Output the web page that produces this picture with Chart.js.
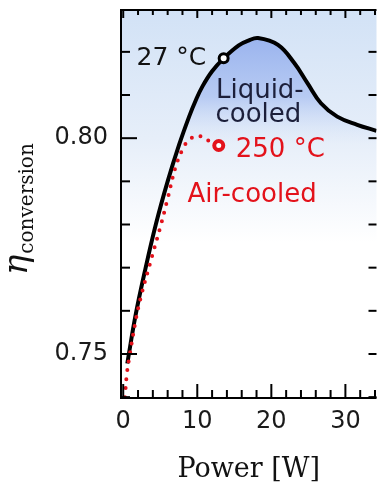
<!DOCTYPE html>
<html>
<head>
<meta charset="utf-8">
<script src="https://cdn.jsdelivr.net/npm/chart.js@4.4.1/dist/chart.umd.min.js"></script>
<style>
  html, body { margin: 0; padding: 0; overflow: hidden; background: #fff; }
  canvas { display: block; }
</style>
</head>
<body>
<canvas id="chart" width="385" height="486"></canvas>
<script>
// liquid-cooled curve (solid black)
const liquidPower = [0.55, 1.65, 2.9, 4.4, 6.0, 7.55, 8.9, 9.8, 10.7, 12.0, 13.56, 15.6, 16.9, 18.2, 20.9, 23.1, 24.9, 26.7, 28.9, 31.6, 34.2];
const liquidEff = [0.7478, 0.7588, 0.7690, 0.7800, 0.7900, 0.7985, 0.8050, 0.8088, 0.8120, 0.8155, 0.8185, 0.8215, 0.8226, 0.8232, 0.8216, 0.8174, 0.8127, 0.8081, 0.8050, 0.8031, 0.8017];

// air-cooled curve (red dots)
const airPower = [0.23, 0.5, 0.9, 1.8, 2.5, 3.3, 4.2, 5.1, 6.0, 7.1, 8.1, 8.9, 10.0, 11.0, 11.6];
const airEff = [0.7400, 0.7455, 0.7500, 0.7588, 0.7640, 0.7690, 0.7745, 0.7800, 0.7860, 0.7935, 0.7977, 0.7996, 0.8005, 0.8000, 0.7993];

// operating points
const liquidPoint = [13.56, 0.8185];
const airPoint = [12.9, 0.7983];

// text inside the plot
const noteText = ['27 °C', 'Liquid-', 'cooled', '250 °C', 'Air-cooled'];
const notePower = [1.79, 12.52, 12.45, 15.2, 8.67];
const noteEff = [0.8170, 0.80927, 0.80385, 0.79573, 0.78530];
const noteColor = ['#111', '#1c1f3a', '#1c1f3a', '#e3121b', '#e3121b'];
const noteSize = [25, 26, 26, 26, 26];

const xRange = [-0.3, 34.2];
const yRange = [0.7398, 0.8297];

const RED = '#e3121b';

const toXY = (xs, ys) => xs.map((v, i) => ({x: v, y: ys[i]}));

function hump(context) {
    const chart = context.chart;
    const {ctx, chartArea} = chart;
    if (!chartArea) return 'transparent';
    const y = chart.scales.y;
    const g = ctx.createLinearGradient(0, y.getPixelForValue(0.823), 0, y.getPixelForValue(0.7985));
    g.addColorStop(0, 'rgba(155,180,238,1)');
    g.addColorStop(0.55, 'rgba(176,197,242,0.85)');
    g.addColorStop(1, 'rgba(215,228,248,0)');
    return g;
}

const background = {
    id: 'background',
    beforeDatasetsDraw(chart) {
        const {ctx, chartArea: a} = chart;
        const g = ctx.createLinearGradient(0, a.top, 0, a.bottom);
        g.addColorStop(0, '#d2e2f6');
        g.addColorStop(0.33, '#e6eef9');
        g.addColorStop(0.6, '#ffffff');
        g.addColorStop(1, '#ffffff');
        ctx.save();
        ctx.fillStyle = g;
        ctx.fillRect(a.left, a.top, a.right - a.left, a.bottom - a.top);
        ctx.restore();
    }
};

const frame = {
    id: 'frame',
    afterDatasetsDraw(chart) {
        const {ctx, chartArea: a, scales: {x, y}} = chart;
        ctx.save();
        ctx.strokeStyle = '#000';
        ctx.lineWidth = 2;
        const seg = (x1, y1, x2, y2) => {
            ctx.beginPath(); ctx.moveTo(x1, y1); ctx.lineTo(x2, y2); ctx.stroke();
        };
        x.ticks.forEach(t => {
            const px = x.getPixelForValue(t.value);
            const major = Math.round(t.value) % 10 === 0;
            seg(px, a.bottom, px, a.bottom - (major ? 14 : 8));
            seg(px, a.top, px, a.top + (major ? 8 : 5));
        });
        y.ticks.forEach(t => {
            const py = y.getPixelForValue(t.value);
            const major = Math.round(t.value * 100) % 5 === 0;
            seg(a.left, py, a.left + (major ? 16 : 9), py);
            seg(a.right, py, a.right - 8, py);
        });
        // left, top and bottom sides of the box (right side falls off the page)
        ctx.beginPath();
        ctx.moveTo(a.right, a.top);
        ctx.lineTo(a.left, a.top);
        ctx.lineTo(a.left, a.bottom);
        ctx.lineTo(a.right, a.bottom);
        ctx.stroke();

        // notes
        ctx.textAlign = 'left';
        ctx.textBaseline = 'alphabetic';
        noteText.forEach((t, i) => {
            ctx.fillStyle = noteColor[i];
            ctx.font = noteSize[i] + 'px "DejaVu Sans"';
            ctx.fillText(t, x.getPixelForValue(notePower[i]), y.getPixelForValue(noteEff[i]));
        });

        // axis titles
        ctx.fillStyle = '#111';
        ctx.font = '27px "DejaVu Serif"';
        ctx.textAlign = 'center';
        ctx.fillText('Power [W]', (a.left + a.right) / 2, 476.5);

        ctx.translate(27, 275);
        ctx.rotate(-Math.PI / 2);
        ctx.textAlign = 'left';
        ctx.font = 'italic 34px "DejaVu Serif"';
        ctx.fillText('η', 0, 0);
        const w = ctx.measureText('η').width;
        ctx.font = '20px "DejaVu Serif"';
        ctx.fillText('conversion', w + 1, 6);
        ctx.restore();
    }
};

const chart = new Chart(document.getElementById('chart'), {
    type: 'line',
    data: {
        datasets: [
            {
                data: [{x: liquidPoint[0], y: liquidPoint[1]}],
                showLine: false,
                pointRadius: 4.5,
                pointBorderWidth: 3,
                pointBackgroundColor: '#fff',
                pointBorderColor: '#000',
                order: 0
            },
            {
                data: [{x: airPoint[0], y: airPoint[1]}],
                showLine: false,
                pointRadius: 4.5,
                pointBorderWidth: 4,
                pointBackgroundColor: '#fff',
                pointBorderColor: RED,
                order: 0
            },
            {
                data: toXY(airPower, airEff),
                borderColor: RED,
                borderWidth: 4,
                borderDash: [0, 9],
                borderCapStyle: 'round',
                pointRadius: 0,
                tension: 0.4,
                fill: false,
                order: 1
            },
            {
                data: toXY(liquidPower, liquidEff),
                borderColor: '#000',
                borderWidth: 4,
                pointRadius: 0,
                tension: 0.4,
                fill: 'start',
                backgroundColor: hump,
                order: 2
            }
        ]
    },
    options: {
        responsive: false,
        animation: false,
        layout: {padding: {top: 10, right: 0, left: 0, bottom: 0}},
        plugins: {legend: {display: false}, tooltip: {enabled: false}},
        scales: {
            x: {
                type: 'linear',
                min: xRange[0],
                max: xRange[1],
                grid: {display: false, drawTicks: false},
                border: {display: false},
                afterFit: s => {
                    s.height = 88;
                    s.paddingLeft = 0;
                    s.paddingRight = 0;
                },
                ticks: {
                    stepSize: 2,
                    includeBounds: false,
                    autoSkip: false,
                    maxRotation: 0,
                    padding: 9,
                    color: '#1a1a1a',
                    font: {family: 'DejaVu Sans', size: 24},
                    callback: v => (Math.round(v) % 10 === 0 ? String(Math.round(v)) : '')
                }
            },
            y: {
                min: yRange[0],
                max: yRange[1],
                grid: {display: false, drawTicks: false},
                border: {display: false},
                afterFit: s => {
                    s.width = 121;
                    s.paddingTop = 0;
                    s.paddingBottom = 0;
                },
                ticks: {
                    stepSize: 0.01,
                    includeBounds: false,
                    autoSkip: false,
                    padding: 13,
                    color: '#1a1a1a',
                    font: {family: 'DejaVu Sans', size: 24},
                    callback: v => (Math.round(v * 100) % 5 === 0 ? v.toFixed(2) : '')
                }
            }
        }
    },
    plugins: [background, frame]
});
</script>
</body>
</html>
